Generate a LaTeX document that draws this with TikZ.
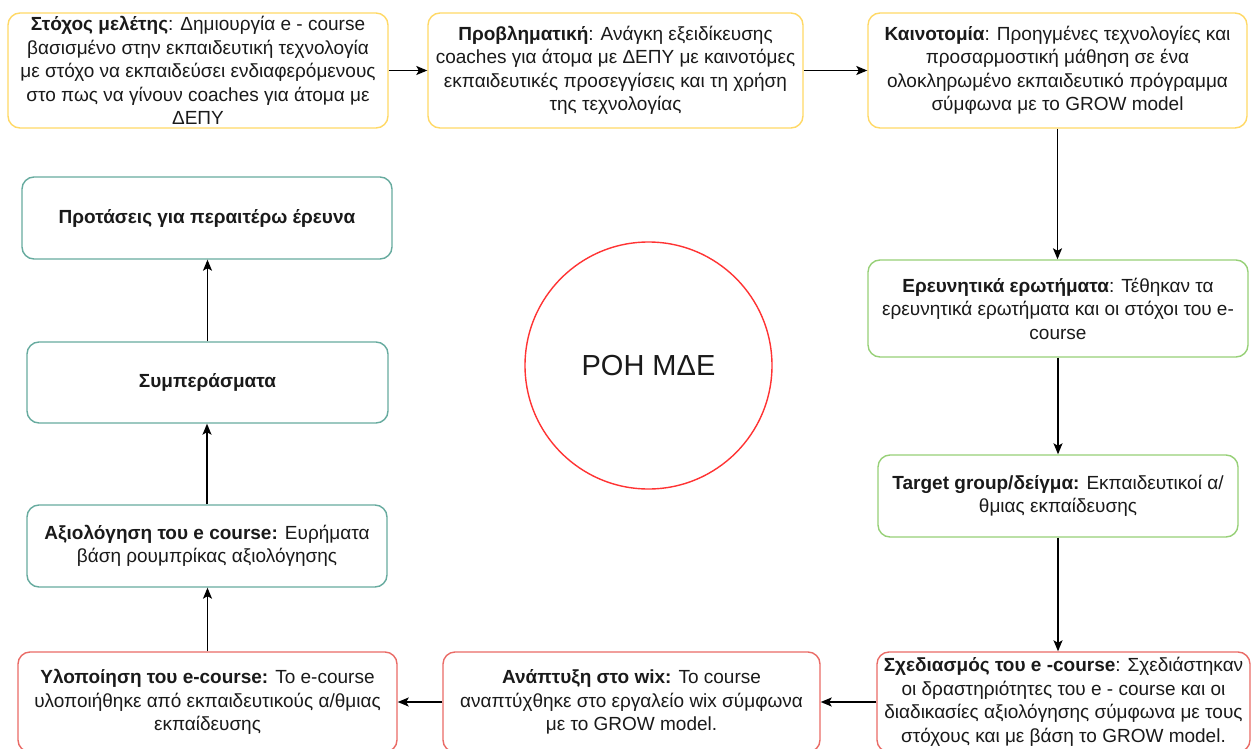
\documentclass[tikz,border=0pt]{standalone}
\usepackage{fontspec}
\setmainfont{Liberation Sans}
\usetikzlibrary{arrows.meta}
\definecolor{ylw}{HTML}{FFD966}
\definecolor{grn}{HTML}{97D077}
\definecolor{rdb}{HTML}{EA6B66}
\definecolor{tel}{HTML}{67AB9F}
\definecolor{circ}{HTML}{FF3333}
\definecolor{txt}{HTML}{1A1A1A}
\begin{document}
\begin{tikzpicture}[x=1pt,y=-1pt,
  box/.style={draw, line width=1.4pt, rounded corners=12pt, fill=white, text=txt,
    inner sep=0pt, align=center,
    font=\fontsize{19}{23.5}\selectfont},
  ybox/.style={box, draw=ylw},
  gbox/.style={box, draw=grn},
  rbox/.style={box, draw=rdb},
  tbox/.style={box, draw=tel},
  arr/.style={line width=1.5pt, -{Stealth[length=11pt,width=9pt,inset=2.5pt]}}]
\useasboundingbox (0,0) rectangle (1252,749);
\fill[white] (0,0) rectangle (1252,749);

\node[ybox, minimum width=380, minimum height=115] (s1) at (198,70.5)
 {\textbf{Στόχος μελέτης}: Δημιουργία e - course\\βασισμένο στην εκπαιδευτική τεχνολογία\\με στόχο να εκπαιδεύσει ενδιαφερόμενους\\στο πως να γίνουν coaches για άτομα με\\ΔΕΠΥ};
\node[ybox, minimum width=375, minimum height=115] (s2) at (615.5,70.5)
 {\textbf{Προβληματική}: Ανάγκη εξειδίκευσης\\coaches για άτομα με ΔΕΠΥ με καινοτόμες\\εκπαιδευτικές προσεγγίσεις και τη χρήση\\της τεχνολογίας};
\node[ybox, minimum width=379, minimum height=115] (s3) at (1057.5,70.5)
 {\textbf{Καινοτομία}: Προηγμένες τεχνολογίες και\\προσαρμοστική μάθηση σε ένα\\ολοκληρωμένο εκπαιδευτικό πρόγραμμα\\σύμφωνα με το GROW model};
\node[gbox, minimum width=380, minimum height=97] (s4) at (1058,308.5)
 {\textbf{Ερευνητικά ερωτήματα}: Τέθηκαν τα\\ερευνητικά ερωτήματα και οι στόχοι του e-\\course};
\node[gbox, minimum width=360, minimum height=82] (s5) at (1058,496)
 {\textbf{Target group/δείγμα:} Εκπαιδευτικοί α/\\θμιας εκπαίδευσης};
\node[rbox, minimum width=373, minimum height=100] (s6) at (1063.5,702)
 {\textbf{Σχεδιασμός του e -course}: Σχεδιάστηκαν\\οι δραστηριότητες του e - course και οι\\διαδικασίες αξιολόγησης σύμφωνα με τους\\στόχους και με βάση το GROW model.};
\node[rbox, minimum width=377, minimum height=100] (s7) at (631.5,702)
 {\textbf{Ανάπτυξη στο wix:} Το course\\αναπτύχθηκε στο εργαλείο wix σύμφωνα\\με το GROW model.};
\node[rbox, minimum width=379, minimum height=100] (s8) at (207.5,702)
 {\textbf{Υλοποίηση του e-course:} Το e-course\\υλοποιήθηκε από εκπαιδευτικούς α/θμιας\\εκπαίδευσης};
\node[tbox, minimum width=360, minimum height=82] (s9) at (207,546)
 {\textbf{Αξιολόγηση του e course:} Ευρήματα\\βάση ρουμπρίκας αξιολόγησης};
\node[tbox, minimum width=361, minimum height=81] (s10) at (207.5,382.5)
 {\textbf{Συμπεράσματα}};
\node[tbox, minimum width=370, minimum height=82] (s11) at (207,218)
 {\textbf{Προτάσεις για περαιτέρω έρευνα}};

\node[draw=circ, line width=1.4pt, circle, minimum size=247, inner sep=0pt,
  text=txt, font=\fontsize{29}{32}\selectfont] (c) at (648.5,365.5) {ΡΟΗ ΜΔΕ};

\draw[arr] (s1.east) -- (s2.west);
\draw[arr] (s2.east) -- (s3.west);
\draw[arr] (s3.south) -- (s3.south |- s4.north);
\draw[arr] (s4.south) -- (s4.south |- s5.north);
\draw[arr] (s5.south) -- (s5.south |- s6.north);
\draw[arr] (s6.west) -- (s7.east);
\draw[arr] (s7.west) -- (s8.east);
\draw[arr] (s8.north) -- (s8.north |- s9.south);
\draw[arr] (s9.north) -- (s9.north |- s10.south);
\draw[arr] (s10.north) -- (s10.north |- s11.south);
\end{tikzpicture}
\end{document}
